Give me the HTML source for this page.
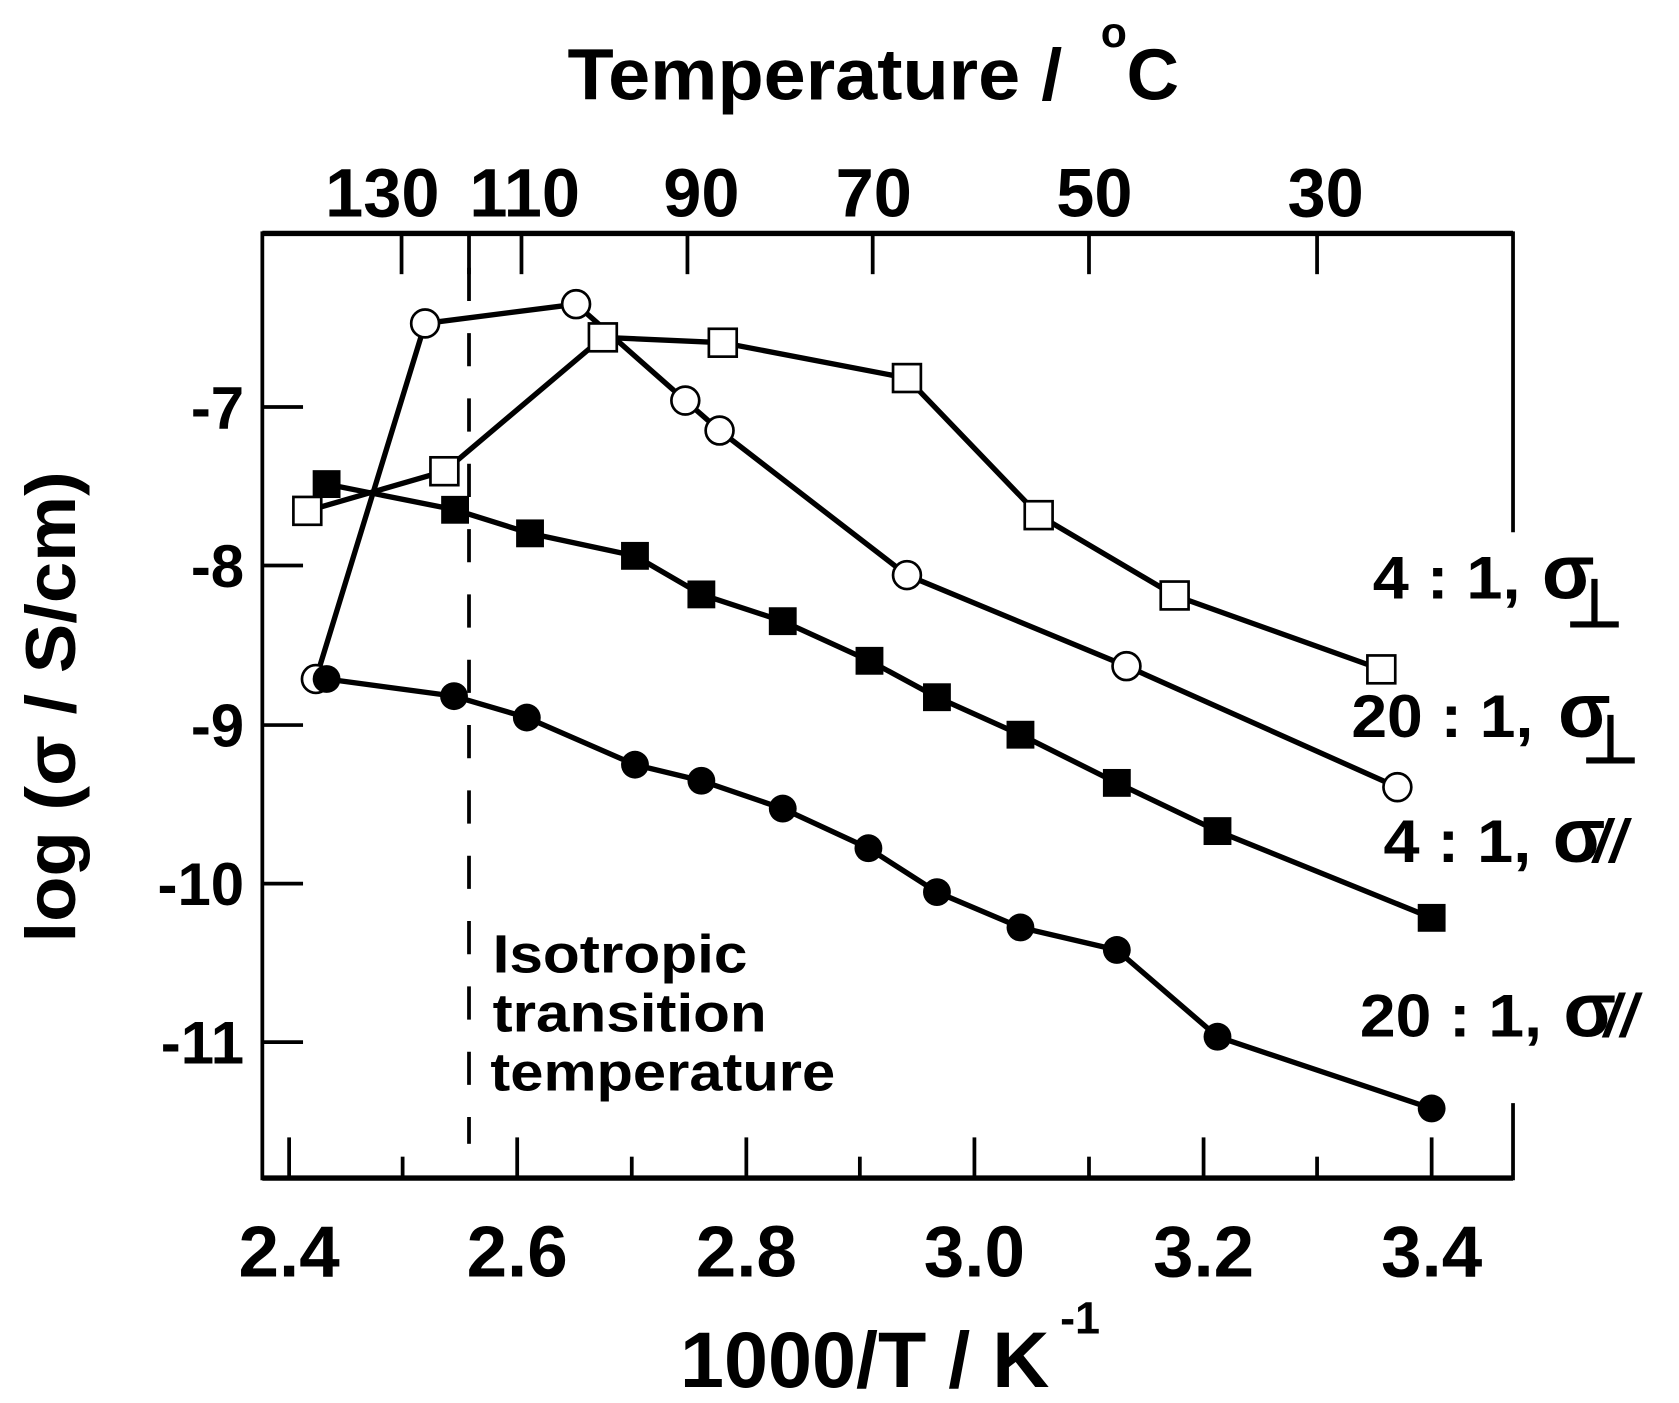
<!DOCTYPE html>
<html><head><meta charset="utf-8"><style>
html,body{margin:0;padding:0;background:#fff;}
svg{display:block;}
text{font-family:"Liberation Sans",Arial,sans-serif;font-weight:bold;fill:#000;}
</style></head><body>
<svg width="1679" height="1403" viewBox="0 0 1568 1310" preserveAspectRatio="none" xmlns="http://www.w3.org/2000/svg">
<g stroke="#000" stroke-width="3.5" fill="none">
<line x1="245" y1="218" x2="1413" y2="218" stroke-width="5"/>
<line x1="245" y1="1100" x2="1413" y2="1100" stroke-width="5"/>
<line x1="245" y1="216" x2="245" y2="1102"/>
<line x1="1413" y1="216" x2="1413" y2="497"/>
<line x1="1413" y1="1030" x2="1413" y2="1102"/>
<line x1="375" y1="218" x2="375" y2="256"/>
<line x1="438" y1="218" x2="438" y2="256"/>
<line x1="487" y1="218" x2="487" y2="256"/>
<line x1="642" y1="218" x2="642" y2="256"/>
<line x1="815" y1="218" x2="815" y2="256"/>
<line x1="1017" y1="218" x2="1017" y2="256"/>
<line x1="1230" y1="218" x2="1230" y2="256"/>
<line x1="270" y1="1100" x2="270" y2="1062"/>
<line x1="483" y1="1100" x2="483" y2="1062"/>
<line x1="697" y1="1100" x2="697" y2="1062"/>
<line x1="910" y1="1100" x2="910" y2="1062"/>
<line x1="1124" y1="1100" x2="1124" y2="1062"/>
<line x1="1337" y1="1100" x2="1337" y2="1062"/>
<line x1="376" y1="1100" x2="376" y2="1080"/>
<line x1="590" y1="1100" x2="590" y2="1080"/>
<line x1="803" y1="1100" x2="803" y2="1080"/>
<line x1="1017" y1="1100" x2="1017" y2="1080"/>
<line x1="1230" y1="1100" x2="1230" y2="1080"/>
<line x1="245" y1="380" x2="283" y2="380"/>
<line x1="245" y1="528" x2="283" y2="528"/>
<line x1="245" y1="677" x2="283" y2="677"/>
<line x1="245" y1="825" x2="283" y2="825"/>
<line x1="245" y1="973" x2="283" y2="973"/>
<line x1="438" y1="250" x2="438" y2="1068" stroke-dasharray="31,30"/>
</g>
<g stroke="#000" stroke-width="5" fill="none" stroke-linejoin="round">
<polyline points="287,477 415,440 563,315 675,320 847,353 970,481 1097,556 1290,625"/>
<polyline points="295,634 397,302 538,284 640,374 672,402 847,537 1052,622 1305,735"/>
<polyline points="305,452 425,476 495,498 593,519 655,555 731,580 812,617 875,651 953,686 1043,731 1137,776 1337,857"/>
<polyline points="305,634 424,650 492,670 593,714 655,729 731,755 811,792 875,833 953,866 1043,887 1137,968 1337,1035"/>
</g>
<g fill="#fff" stroke="#000" stroke-width="2.5">
<rect x="274" y="464" width="26" height="26"/><rect x="402" y="427" width="26" height="26"/>
<rect x="550" y="302" width="26" height="26"/><rect x="662" y="307" width="26" height="26"/>
<rect x="834" y="340" width="26" height="26"/><rect x="957" y="468" width="26" height="26"/>
<rect x="1084" y="543" width="26" height="26"/><rect x="1277" y="612" width="26" height="26"/>
</g>
<g fill="#fff" stroke="#000" stroke-width="2.5">
<circle cx="295" cy="634" r="13"/><circle cx="397" cy="302" r="13"/><circle cx="538" cy="284" r="13"/>
<circle cx="640" cy="374" r="13"/><circle cx="672" cy="402" r="13"/><circle cx="847" cy="537" r="13"/>
<circle cx="1052" cy="622" r="13"/><circle cx="1305" cy="735" r="13"/>
</g>
<g fill="#000">
<rect x="292" y="439" width="26" height="26"/><rect x="412" y="463" width="26" height="26"/>
<rect x="482" y="485" width="26" height="26"/><rect x="580" y="506" width="26" height="26"/>
<rect x="642" y="542" width="26" height="26"/><rect x="718" y="567" width="26" height="26"/>
<rect x="799" y="604" width="26" height="26"/><rect x="862" y="638" width="26" height="26"/>
<rect x="940" y="673" width="26" height="26"/><rect x="1030" y="718" width="26" height="26"/>
<rect x="1124" y="763" width="26" height="26"/><rect x="1324" y="844" width="26" height="26"/>
</g>
<g fill="#000">
<circle cx="305" cy="634" r="13"/><circle cx="424" cy="650" r="13"/><circle cx="492" cy="670" r="13"/>
<circle cx="593" cy="714" r="13"/><circle cx="655" cy="729" r="13"/><circle cx="731" cy="755" r="13"/>
<circle cx="811" cy="792" r="13"/><circle cx="875" cy="833" r="13"/><circle cx="953" cy="866" r="13"/>
<circle cx="1043" cy="887" r="13"/><circle cx="1137" cy="968" r="13"/><circle cx="1337" cy="1035" r="13"/>
</g>
<text x="530" y="93" font-size="68" textLength="462" lengthAdjust="spacingAndGlyphs">Temperature /</text>
<text x="1028" y="44" font-size="40">o</text>
<text x="1052" y="93" font-size="68">C</text>
<g font-size="64" text-anchor="middle">
<text x="357" y="202">130</text><text x="490" y="202">110</text><text x="655" y="202">90</text>
<text x="816" y="202">70</text><text x="1022" y="202">50</text><text x="1238" y="202">30</text>
</g>
<g font-size="68" text-anchor="middle">
<text x="270" y="1192">2.4</text><text x="483" y="1192">2.6</text><text x="697" y="1192">2.8</text>
<text x="910" y="1192">3.0</text><text x="1124" y="1192">3.2</text><text x="1337" y="1192">3.4</text>
</g>
<g font-size="56" text-anchor="end">
<text x="228" y="400">-7</text><text x="228" y="548">-8</text><text x="228" y="697">-9</text>
<text x="228" y="845">-10</text><text x="228" y="993">-11</text>
</g>
<text x="635" y="1295" font-size="74" textLength="345" lengthAdjust="spacingAndGlyphs">1000/T  / K</text>
<text x="990" y="1245" font-size="42">-1</text>
<text transform="translate(70,660) rotate(-90)" font-size="66" text-anchor="middle" textLength="440" lengthAdjust="spacingAndGlyphs">log (σ / S/cm)</text>
<g font-size="50">
<text x="460" y="908" textLength="238" lengthAdjust="spacingAndGlyphs">Isotropic</text>
<text x="460" y="963" textLength="256" lengthAdjust="spacingAndGlyphs">transition</text>
<text x="458" y="1018" textLength="322" lengthAdjust="spacingAndGlyphs">temperature</text>
</g>
<g font-size="56">
<text x="1282" y="559" textLength="138" lengthAdjust="spacingAndGlyphs">4 : 1,</text><text x="1440" y="559" font-family="Liberation Serif,serif" font-size="72">σ</text><text x="1462" y="585" font-size="62">⊥</text>
<text x="1262" y="688" textLength="170" lengthAdjust="spacingAndGlyphs">20 : 1,</text><text x="1455" y="688" font-family="Liberation Serif,serif" font-size="72">σ</text><text x="1477" y="712" font-size="62">⊥</text>
<text x="1292" y="805" textLength="138" lengthAdjust="spacingAndGlyphs">4 : 1,</text><text x="1450" y="805" font-family="Liberation Serif,serif" font-size="72">σ</text><text x="1488" y="805" font-style="italic">//</text>
<text x="1270" y="968" textLength="170" lengthAdjust="spacingAndGlyphs">20 : 1,</text><text x="1460" y="968" font-family="Liberation Serif,serif" font-size="72">σ</text><text x="1498" y="968" font-style="italic">//</text>
</g>
</svg>
</body></html>
